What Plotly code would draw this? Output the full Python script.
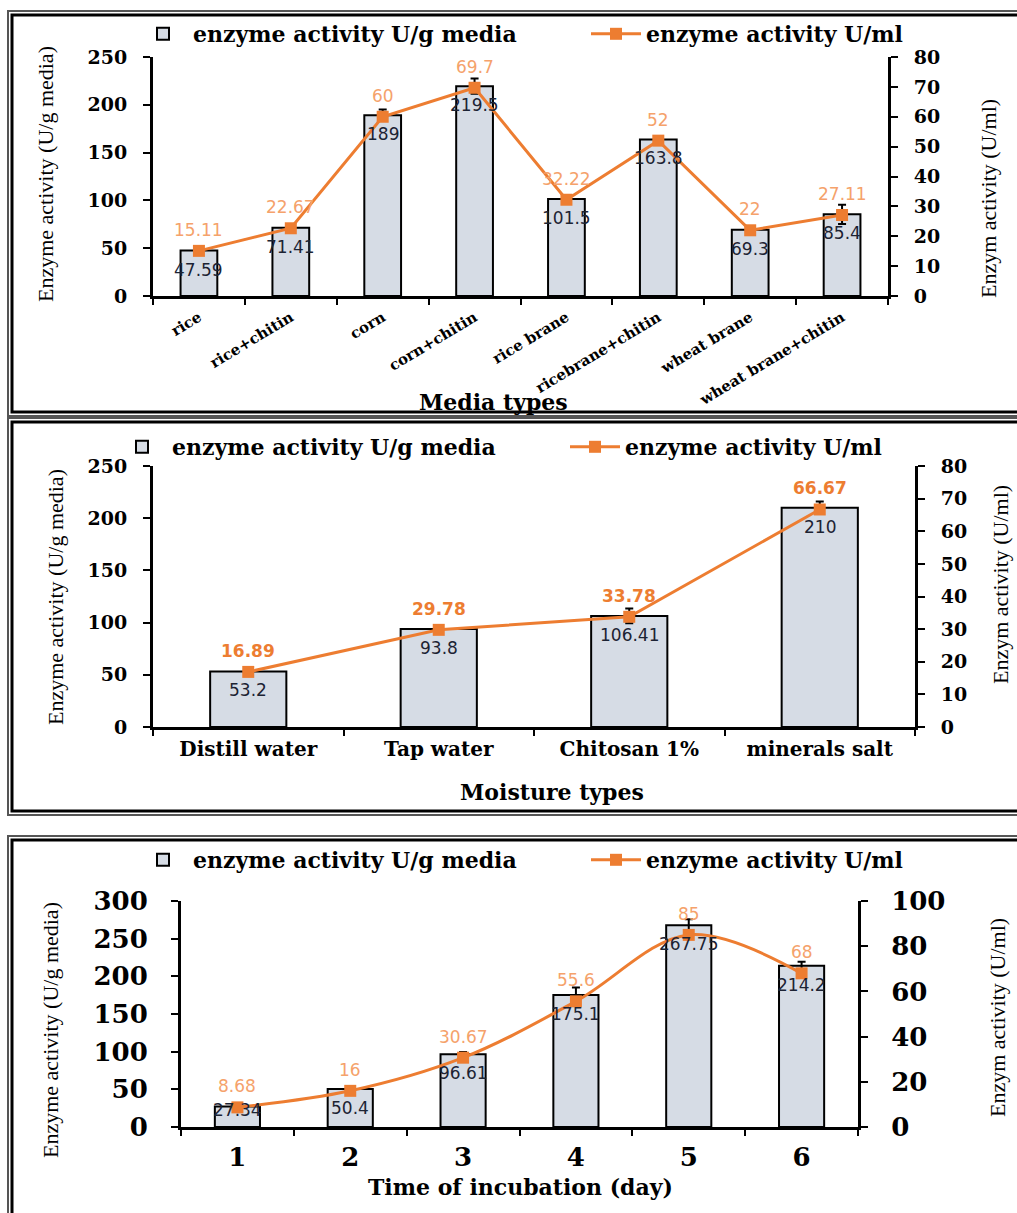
import plotly.graph_objects as go

W, H = 1017, 1213

# ---------------- data ----------------
media = ["rice", "rice+chitin", "corn", "corn+chitin", "rice brane",
         "ricebrane+chitin", "wheat brane", "wheat brane+chitin"]
media_ug = [47.59, 71.41, 189, 219.5, 101.5, 163.8, 69.3, 85.4]
media_uml = [15.11, 22.67, 60, 69.7, 32.22, 52, 22, 27.11]
media_err = [0, 0, 6, 8, 0, 0, 2, 10]

moist = ["Distill water", "Tap water", "Chitosan 1%", "minerals salt"]
moist_ug = [53.2, 93.8, 106.41, 210]
moist_uml = [16.89, 29.78, 33.78, 66.67]
moist_err = [0, 0, 7, 6]

days = ["1", "2", "3", "4", "5", "6"]
day_ug = [27.34, 50.4, 96.61, 175.1, 267.75, 214.2]
day_uml = [8.68, 16, 30.67, 55.6, 85, 68]
day_err = [0, 0, 3, 10, 8, 5]

BAR_NAME = "enzyme activity U/g media"
LINE_NAME = "enzyme activity U/ml"
LEFT_TITLE = "Enzyme activity (U/g media)"
RIGHT_TITLE = "Enzym activity (U/ml)"

# ---------------- style ----------------
BAR_FILL = "#D6DCE5"
ORANGE = "#ED7D31"
LIGHT_ORANGE = "#F5A26B"
DARK_TXT = "#1c2333"
SERIF_B = "DejaVu Serif"
TIMES = "Liberation Serif, Times New Roman, serif"
SANS = "DejaVu Sans"


def fx(px):
    return px / W


def fy(py):
    return 1 - py / H


fig = go.Figure()

panels = [
    dict(cats=media, ug=media_ug, uml=media_uml, err=media_err,
         xa="x", ya="y", ya2="y2", legend="legend",
         xdom=(153, 888), ydom=(57, 296), yr=250, ydt=50, y2r=80, y2dt=10,
         tick=19, xtick=15, xangle=-31, xstand=4, ystand=12, spline=False,
         lab_col=LIGHT_ORANGE, lab_bold=False,
         xtitle="Media types", xt_pos=(493, 402),
         lt_pos=(45, 174), rt_pos=(988, 199), leg_y=34, leg_x=133),
    dict(cats=moist, ug=moist_ug, uml=moist_uml, err=moist_err,
         xa="x2", ya="y3", ya2="y4", legend="legend2",
         xdom=(153, 915), ydom=(466, 727), yr=250, ydt=50, y2r=80, y2dt=10,
         tick=19, xtick=20, xangle=0, xstand=2, ystand=12, spline=False,
         lab_col=ORANGE, lab_bold=True,
         xtitle="Moisture types", xt_pos=(552, 792),
         lt_pos=(55, 597), rt_pos=(1000, 585), leg_y=447, leg_x=112),
    dict(cats=days, ug=day_ug, uml=day_uml, err=day_err,
         xa="x3", ya="y5", ya2="y6", legend="legend3",
         xdom=(181, 858), ydom=(901, 1127), yr=300, ydt=50, y2r=100, y2dt=20,
         tick=26, xtick=26, xangle=0, xstand=5, ystand=18, spline=True,
         lab_col=LIGHT_ORANGE, lab_bold=False,
         xtitle="Time of incubation (day)", xt_pos=(520, 1187),
         lt_pos=(50, 1030), rt_pos=(997, 1018), leg_y=860, leg_x=133),
]

annotations = []
shapes = []
layout_axes = {}
legends = {}

for i, p in enumerate(panels):
    fig.add_trace(go.Bar(
        x=p["cats"], y=p["ug"], xaxis=p["xa"], yaxis=p["ya"],
        name=BAR_NAME, legend=p["legend"], width=0.4,
        marker=dict(color=BAR_FILL, line=dict(color="black", width=2)),
        error_y=dict(type="data", array=p["err"], color="black",
                     thickness=2, width=4),
    ))
    fig.add_trace(go.Scatter(
        x=p["cats"], y=p["uml"], xaxis=p["xa"], yaxis=p["ya2"],
        name=LINE_NAME, legend=p["legend"], mode="lines+markers",
        line=dict(color=ORANGE, width=3,
                  shape="spline" if p["spline"] else "linear"),
        marker=dict(symbol="square", size=12, color=ORANGE),
    ))

    xkey = "xaxis" + ("" if p["xa"] == "x" else p["xa"][1:])
    ykey = "yaxis" + ("" if p["ya"] == "y" else p["ya"][1:])
    y2key = "yaxis" + p["ya2"][1:]
    n = len(p["cats"])
    tf = dict(family=SERIF_B, size=p["tick"], color="black", weight="bold")
    layout_axes[xkey] = dict(
        domain=[fx(p["xdom"][0]), fx(p["xdom"][1])], anchor=p["ya"],
        type="category", range=[-0.5, n - 0.5], automargin=False,
        showline=True, linewidth=3, linecolor="black",
        ticks="outside", tickson="boundaries", ticklen=6, tickwidth=2,
        tickcolor="black", showgrid=False, tickangle=p["xangle"],
        ticklabelstandoff=p["xstand"],
        tickfont=dict(family=SERIF_B, size=p["xtick"], color="black",
                      weight="bold"),
    )
    ax_common = dict(showline=True, linewidth=3, linecolor="black",
                     ticks="outside", ticklen=7, tickwidth=2, tickcolor="black",
                     showgrid=False, zeroline=False, tickfont=tf,
                     automargin=False, ticklabelstandoff=p["ystand"])
    layout_axes[ykey] = dict(
        domain=[fy(p["ydom"][1]), fy(p["ydom"][0])], anchor=p["xa"],
        range=[0, p["yr"]], dtick=p["ydt"], **ax_common)
    layout_axes[y2key] = dict(
        overlaying=p["ya"], side="right", anchor=p["xa"],
        range=[0, p["y2r"]], dtick=p["y2dt"], **ax_common)

    # data labels (x given as category index)
    plot_h = p["ydom"][1] - p["ydom"][0]
    for k, v in enumerate(p["ug"]):
        bar_px = v / p["yr"] * plot_h
        annotations.append(dict(
            x=k, y=v, xref=p["xa"], yref=p["ya"], text=str(v),
            showarrow=False, yanchor="middle",
            yshift=-19 if bar_px > 35 else -4,
            font=dict(family=SANS, size=17, color=DARK_TXT)))
    for k, v in enumerate(p["uml"]):
        annotations.append(dict(
            x=k, y=v, xref=p["xa"], yref=p["ya2"], text=str(v),
            showarrow=False, yanchor="middle", yshift=21,
            font=dict(family=SANS, size=17, color=p["lab_col"],
                      weight="bold" if p["lab_bold"] else "normal")))

    # axis titles
    annotations.append(dict(
        x=fx(p["xt_pos"][0]), y=fy(p["xt_pos"][1]), xref="paper", yref="paper",
        text=p["xtitle"], showarrow=False, xanchor="center", yanchor="middle",
        font=dict(family=SERIF_B, size=22, color="black", weight="bold")))
    annotations.append(dict(
        x=fx(p["lt_pos"][0]), y=fy(p["lt_pos"][1]), xref="paper", yref="paper",
        text=LEFT_TITLE, showarrow=False, textangle=-90,
        xanchor="center", yanchor="middle",
        font=dict(family=TIMES, size=22, color="black")))
    annotations.append(dict(
        x=fx(p["rt_pos"][0]), y=fy(p["rt_pos"][1]), xref="paper", yref="paper",
        text=RIGHT_TITLE, showarrow=False, textangle=-90,
        xanchor="center", yanchor="middle",
        font=dict(family=TIMES, size=22, color="black")))

    legends[p["legend"]] = dict(
        orientation="h", x=fx(p["leg_x"]), y=fy(p["leg_y"]),
        xanchor="left", yanchor="middle", bgcolor="rgba(0,0,0,0)",
        entrywidth=388, entrywidthmode="pixels", itemwidth=50,
        font=dict(family=SERIF_B, size=22, color="black", weight="bold"),
    )

# panel frames (double border)
frames = [(8, 11, 416), (8, 418, 815), (8, 836, 1240)]
for x0, y0, y1 in frames:
    shapes.append(dict(type="rect", xref="paper", yref="paper",
                       x0=fx(x0), x1=fx(1030), y0=fy(y1), y1=fy(y0),
                       line=dict(color="#555555", width=2)))
    shapes.append(dict(type="rect", xref="paper", yref="paper",
                       x0=fx(x0 + 4), x1=fx(1030), y0=fy(y1 - 4), y1=fy(y0 + 4),
                       line=dict(color="black", width=3)))

fig.update_layout(
    width=W, height=H, margin=dict(l=0, r=0, t=0, b=0, autoexpand=False),
    paper_bgcolor="white", plot_bgcolor="rgba(0,0,0,0)",
    showlegend=True, barmode="overlay",
    annotations=annotations, shapes=shapes,
    **layout_axes, **legends,
)

fig.write_html("out.html")
